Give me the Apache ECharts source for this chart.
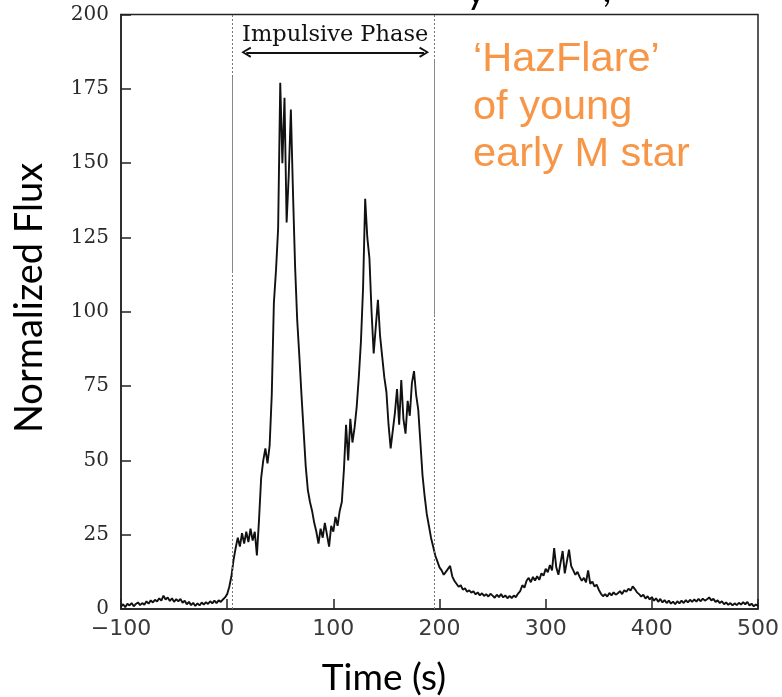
<!DOCTYPE html>
<html>
<head>
<meta charset="utf-8">
<title>HazFlare light curve</title>
<script src="https://cdn.jsdelivr.net/npm/echarts@6/dist/echarts.min.js"></script>
<style>
  html, body { margin: 0; padding: 0; background: #fff; }
  #chart { width: 782px; height: 697px; }
</style>
</head>
<body>
<div id="chart"></div>
<script>
// Sample times (s), relative to flare onset
const sampleTime = [
  -100, -98, -96, -94, -92, -90, -88, -86, -84, -82,
  -80, -78, -76, -74, -72, -70, -68, -66, -64, -62,
  -60, -58, -56, -54, -52, -50, -48, -46, -44, -42,
  -40, -38, -36, -34, -32, -30, -28, -26, -24, -22,
  -20, -18, -16, -14, -12, -10, -8, -6, -4, -2,
  0, 2, 4, 6, 8, 10, 12, 14, 16, 18,
  20, 22, 24, 26, 28, 30, 32, 34, 36, 38,
  40, 42, 44, 46, 48, 50, 52, 54, 56, 58,
  60, 62, 64, 66, 68, 70, 72, 74, 76, 78,
  80, 82, 84, 86, 88, 90, 92, 94, 96, 98,
  100, 102, 104, 106, 108, 110, 112, 114, 116, 118,
  120, 122, 124, 126, 128, 130, 132, 134, 136, 138,
  140, 142, 144, 146, 148, 150, 152, 154, 156, 158,
  160, 162, 164, 166, 168, 170, 172, 174, 176, 178,
  180, 182, 184, 186, 188, 190, 192, 194, 196, 198,
  200, 202, 204, 206, 208, 210, 212, 214, 216, 218,
  220, 222, 224, 226, 228, 230, 232, 234, 236, 238,
  240, 242, 244, 246, 248, 250, 252, 254, 256, 258,
  260, 262, 264, 266, 268, 270, 272, 274, 276, 278,
  280, 282, 284, 286, 288, 290, 292, 294, 296, 298,
  300, 302, 304, 306, 308, 310, 312, 314, 316, 318,
  320, 322, 324, 326, 328, 330, 332, 334, 336, 338,
  340, 342, 344, 346, 348, 350, 352, 354, 356, 358,
  360, 362, 364, 366, 368, 370, 372, 374, 376, 378,
  380, 382, 384, 386, 388, 390, 392, 394, 396, 398,
  400, 402, 404, 406, 408, 410, 412, 414, 416, 418,
  420, 422, 424, 426, 428, 430, 432, 434, 436, 438,
  440, 442, 444, 446, 448, 450, 452, 454, 456, 458,
  460, 462, 464, 466, 468, 470, 472, 474, 476, 478,
  480, 482, 484, 486, 488, 490, 492, 494, 496, 498,
  500
];

// Normalized flux at each sample time
const normalizedFlux = [
  0.8, 1.6, 0.6, 1.8, 1.2, 2.0, 0.9, 1.7, 2.2, 1.3,
  2.0, 1.4, 2.6, 1.8, 2.9, 2.2, 3.1, 2.5, 3.6, 2.8,
  4.5, 3.2, 3.9, 2.7, 3.6, 2.4, 3.3, 2.6, 3.4, 2.1,
  2.8, 1.6, 2.4, 1.3, 2.1, 1.0, 1.9, 1.2, 2.2, 1.5,
  2.3, 1.7, 2.6, 1.9, 2.8, 2.0, 2.9, 2.4, 3.2, 3.9,
  5.0, 7.5, 11.0, 16.5, 20.5, 24.0, 21.0, 25.5, 22.0, 26.0,
  22.5, 27.0, 23.0, 26.0, 18.0, 30.0, 44.0, 50.0, 54.0, 49.0,
  55.0, 72.0, 103.0, 114.0, 128.0, 177.0, 150.0, 172.0, 130.0, 146.0,
  168.0, 140.0, 115.0, 97.0, 85.0, 72.0, 60.0, 48.0, 40.0, 36.0,
  33.0, 29.0, 26.0, 22.0, 27.0, 24.0, 29.0, 25.0, 21.0, 28.0,
  26.0, 31.0, 28.0, 33.0, 36.0, 47.0, 62.0, 50.0, 64.0, 56.0,
  61.0, 68.0, 78.0, 90.0, 108.0, 138.0, 125.0, 118.0, 100.0, 86.0,
  95.0, 104.0, 92.0, 85.0, 78.0, 73.0, 62.0, 54.0, 60.0, 66.0,
  74.0, 62.0, 77.0, 64.0, 59.0, 70.0, 65.0, 76.0, 80.0, 72.0,
  67.0, 56.0, 45.0, 38.0, 32.0, 28.0, 24.0, 21.0, 18.0, 16.0,
  14.0, 13.0, 11.5, 12.5, 13.5, 14.5, 11.0, 9.5, 8.5, 7.5,
  8.0, 6.5, 7.0, 5.8, 6.3, 5.5, 6.0, 4.9, 5.6, 4.6,
  5.3, 4.4, 5.0, 4.2, 5.1, 4.5, 3.8, 4.8, 4.0, 5.0,
  3.9, 4.6, 3.6, 4.4, 3.7, 4.5, 4.0, 5.2, 6.0, 8.0,
  7.2, 9.5, 10.5, 9.0, 10.8, 9.6, 11.0, 9.8, 12.0, 11.2,
  13.5, 12.4, 14.8, 13.0, 20.5, 14.0, 11.5, 15.5, 19.5, 12.0,
  16.0, 20.0, 14.5, 13.0, 11.5, 12.5, 10.8, 9.5, 10.5, 9.0,
  13.0, 8.5, 9.2, 7.6, 8.2, 6.5, 5.2, 4.3, 5.0, 4.2,
  5.4, 4.6, 5.6, 4.8, 5.3, 6.0, 5.0, 6.3, 5.8, 6.8,
  6.2, 7.6, 6.7, 5.6, 5.0, 4.2, 4.8, 3.5, 4.3, 3.2,
  4.0, 2.8, 3.6, 2.4, 3.4, 2.2, 3.0, 2.0, 2.8, 1.8,
  2.5, 1.6, 2.6, 1.9, 2.8, 2.0, 3.0, 2.2, 3.1, 2.4,
  3.2, 2.5, 3.4, 2.6, 3.5, 2.8, 3.3, 3.9, 2.9, 3.4,
  2.4, 2.9, 2.0, 2.6, 1.6, 2.2, 1.4, 2.0, 1.2, 1.9,
  1.3, 2.1, 1.5, 2.3, 1.6, 2.4, 1.2, 1.8, 0.9, 1.5,
  1.0
];

// Axis ranges and ticks
const timeAxis = { min: -100, max: 500, step: 100 };
const fluxAxis = { min: 0, max: 200, step: 25 };

// Impulsive phase window (s) and its annotation
const impulsivePhase = { start: 5, end: 195, label: 'Impulsive Phase' };
const arrowSpan = { from: 18, to: 185.5, level: 187.3 };

// Text blocks
const xTitle = 'Time (s)';
const yTitle = 'Normalized Flux';
const noteLines = ['\u2018HazFlare\u2019', 'of young', 'early M star'];
const headingTail = ['y', ','];

const seriesData = sampleTime.map((t, i) => [t, normalizedFlux[i]]);

// open chevron head, drawn pointing "up" and rotated by the markLine
const chevron = 'path://M5,0 L10,9 L8.4,10 L5,3.2 L1.6,10 L0,9 Z';

const chart = echarts.init(document.getElementById('chart'), null, { renderer: 'canvas' });

const noteStyle = { fontFamily: 'Liberation Sans', fontSize: 41.5, fill: '#F79646', verticalAlign: 'top' };

const option = {
  animation: false,
  backgroundColor: '#fff',
  grid: {
    left: 121, right: 24, top: 14.5, bottom: 88,
    show: true, borderColor: '#222', borderWidth: 1.5, backgroundColor: 'transparent'
  },
  xAxis: {
    type: 'value',
    min: timeAxis.min, max: timeAxis.max, interval: timeAxis.step,
    axisLine: { show: true, onZero: false, lineStyle: { color: '#222', width: 1.5 } },
    axisTick: { show: true, inside: true, length: 10, lineStyle: { color: '#222', width: 1.5 } },
    splitLine: { show: false },
    axisLabel: {
      fontFamily: 'DejaVu Sans', fontSize: 22, color: '#3a3a3a', margin: 9,
      formatter: v => String(v).replace('-', '\u2212')
    }
  },
  yAxis: {
    type: 'value',
    min: fluxAxis.min, max: fluxAxis.max, interval: fluxAxis.step,
    axisLine: { show: true, onZero: false, lineStyle: { color: '#222', width: 1.5 } },
    axisTick: { show: true, inside: true, length: 10, lineStyle: { color: '#222', width: 1.5 } },
    splitLine: { show: false },
    axisLabel: { fontFamily: 'DejaVu Serif', fontSize: 20, color: '#2a2a2a', margin: 12 }
  },
  series: [{
    type: 'line',
    data: seriesData,
    showSymbol: false,
    symbol: 'none',
    lineStyle: { color: '#111', width: 1.9 },
    z: 3,
    markLine: {
      silent: true,
      animation: false,
      symbol: 'none',
      label: { show: false },
      data: [
        { xAxis: impulsivePhase.start, lineStyle: { type: [2, 2], color: '#777', width: 1 } },
        { xAxis: impulsivePhase.end, lineStyle: { type: [2, 2], color: '#777', width: 1 } },
        [
          { coord: [impulsivePhase.start, 113], lineStyle: { type: 'solid', color: '#888', width: 1 } },
          { coord: [impulsivePhase.start, 179] }
        ],
        [
          { coord: [impulsivePhase.end, 99], lineStyle: { type: 'solid', color: '#888', width: 1 } },
          { coord: [impulsivePhase.end, 185] }
        ],
        [
          {
            coord: [arrowSpan.from, arrowSpan.level],
            symbol: chevron, symbolSize: [11, 10],
            lineStyle: { type: 'solid', color: '#111', width: 1.8 },
            label: {
              show: true, position: 'insideMiddleTop', distance: 6,
              formatter: impulsivePhase.label,
              fontFamily: 'DejaVu Serif', fontSize: 22.5, color: '#111'
            }
          },
          { coord: [arrowSpan.to, arrowSpan.level], symbol: chevron, symbolSize: [11, 10] }
        ]
      ]
    }
  }],
  graphic: [
    {
      type: 'text', x: 384, y: 697,
      style: {
        text: xTitle, align: 'center', verticalAlign: 'bottom',
        fontFamily: 'Lato', fontSize: 37, fill: '#000'
      }
    },
    {
      type: 'text', x: 30, y: 298, rotation: Math.PI / 2,
      style: {
        text: yTitle, align: 'center', verticalAlign: 'middle',
        fontFamily: 'Lato', fontSize: 38, fill: '#000'
      }
    },
    { type: 'text', x: 473, y: 39, style: Object.assign({ text: noteLines[0] }, noteStyle) },
    { type: 'text', x: 473, y: 86.5, style: Object.assign({ text: noteLines[1] }, noteStyle) },
    { type: 'text', x: 473, y: 134, style: Object.assign({ text: noteLines[2] }, noteStyle) },
    {
      type: 'text', x: 476, y: 11,
      style: { text: headingTail[0], align: 'center', verticalAlign: 'bottom', fontFamily: 'Lato', fontSize: 37, fill: '#000' }
    },
    {
      type: 'text', x: 607, y: 9,
      style: { text: headingTail[1], align: 'center', verticalAlign: 'bottom', fontFamily: 'Lato', fontSize: 37, fill: '#000' }
    }
  ]
};

chart.setOption(option);
</script>
</body>
</html>
